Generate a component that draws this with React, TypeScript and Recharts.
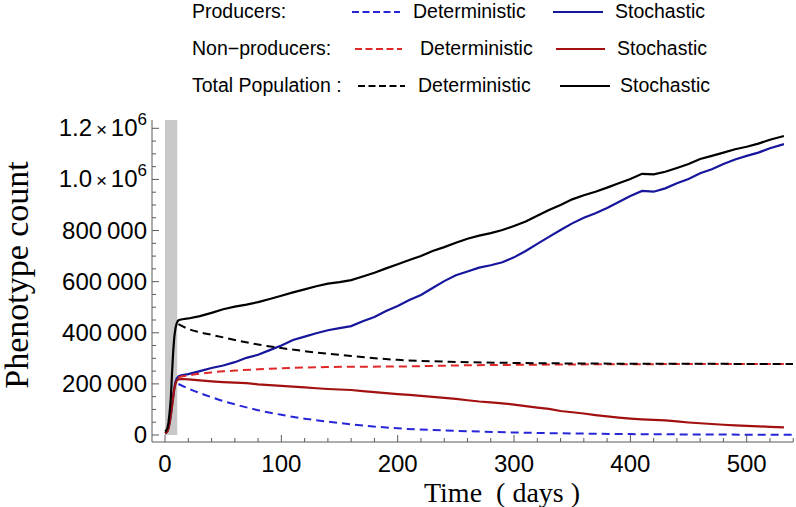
import React from 'react';
import { LineChart, Line, XAxis, YAxis, ReferenceArea } from 'recharts';

// stochastic runs (days)
const stochTimes = [
  0, 1, 2, 3, 4, 5, 6, 7, 8, 9, 10, 11, 12, 15, 20, 30, 40, 50, 60, 70, 80, 90, 100, 110, 120, 130,
  140, 150, 160, 170, 180, 190, 200, 210, 220, 230, 240, 250, 260, 270, 280, 290, 300, 310, 320,
  330, 340, 350, 360, 370, 380, 390, 400, 410, 420, 430, 440, 450, 460, 470, 480, 490, 500, 510,
  520, 532,
];
const stochProducers = [
  6000, 9000, 15000, 28000, 50000, 80000, 115000, 150000, 185000, 208000, 220000, 226000, 231000,
  234000, 238000, 250000, 262000, 272000, 285000, 302000, 314000, 332000, 350000, 372000, 385000,
  398000, 410000, 418000, 426000, 445000, 462000, 485000, 505000, 528000, 548000, 575000, 602000,
  625000, 640000, 655000, 664000, 676000, 695000, 720000, 748000, 775000, 802000, 828000, 850000,
  868000, 888000, 912000, 935000, 955000, 952000, 965000, 985000, 1002000, 1024000, 1040000,
  1060000, 1078000, 1092000, 1105000, 1122000, 1138000,
];
const stochNonProducers = [
  6500, 9000, 14000, 27000, 48000, 78000, 112000, 148000, 180000, 200000, 212000, 217000, 218000,
  219000, 218000, 214000, 210000, 207000, 205000, 203000, 198000, 195000, 192000, 189000, 186000,
  183000, 180000, 178000, 176000, 172000, 168000, 164000, 160000, 157000, 153000, 149000, 145000,
  141000, 136000, 131000, 128000, 124000, 119000, 113000, 107000, 102000, 94000, 89000, 84000,
  78000, 73000, 68000, 64000, 61000, 59000, 57000, 53000, 49000, 46000, 43000, 40000, 38000,
  36000, 34000, 32000, 30000,
];
const stochTotal = [
  13000, 17000, 27000, 50000, 90000, 145000, 240000, 325000, 385000, 418000, 437000, 446000, 450000,
  453000, 456000, 465000, 478000, 492000, 502000, 510000, 520000, 532000, 545000, 558000, 570000,
  582000, 592000, 598000, 606000, 620000, 635000, 652000, 668000, 685000, 700000, 720000, 735000,
  752000, 768000, 780000, 790000, 802000, 818000, 835000, 858000, 880000, 900000, 922000, 938000,
  952000, 968000, 985000, 1002000, 1022000, 1020000, 1030000, 1045000, 1060000, 1080000, 1092000,
  1105000, 1118000, 1128000, 1140000, 1155000, 1170000,
];

// deterministic model (days)
const detTimes = [11.5, 20, 30, 40, 50, 60, 80, 100, 120, 140, 160, 200, 250, 300, 350, 400, 450, 500, 540];
const detProducers = [
  199500, 182000, 164000, 148000, 133000, 120000, 97000, 79000, 64000, 52000, 42000, 26000, 16500,
  10000, 6000, 3500, 2200, 1300, 900,
];
const detNonProducers = [
  225700, 233000, 240000, 245000, 249000, 252000, 257000, 261000, 264000, 266000, 267000, 268000,
  272000, 274500, 276000, 277000, 277500, 277800, 278000,
];
const detTotal = [
  434000, 415000, 402000, 392000, 382000, 372000, 354000, 340000, 328000, 318000, 309000, 294000,
  286000, 282000, 280000, 279000, 278500, 278200, 278000,
];

const xTicks = Array.from({ length: 28 }, (_, i) => i * 20);
const yTicks = Array.from({ length: 25 }, (_, i) => i * 50000);
const yLabels: Record<number, string> = {
  0: '0', 200000: '200\u2009000', 400000: '400\u2009000', 600000: '600\u2009000', 800000: '800\u2009000',
};

const toRows = (times: number[], vals: number[]) => times.map((t, i) => ({ t, v: vals[i] }));

const FRAME = '#5a5a5a';
const SANS = '"Liberation Sans", Arial, sans-serif';
const SERIF = '"Liberation Serif", "Times New Roman", serif';

const COLORS = {
  prodDet: '#2626d8',
  prodSto: '#16169c',
  nonDet: '#e02828',
  nonSto: '#a21010',
  total: '#000000',
};

const BottomTick = (props: any) => {
  const { x, y, payload } = props;
  const major = payload.value % 100 === 0;
  return (
    <g>
      <line x1={x} x2={x} y1={y} y2={y - (major ? 7 : 4)} stroke={FRAME} />
      {major && (
        <text x={x} y={y + 30} textAnchor="middle" fontFamily={SANS} fontSize={24} fill="#000">
          {payload.value}
        </text>
      )}
    </g>
  );
};

const TopTick = (props: any) => {
  const { x, y, payload } = props;
  const major = payload.value % 100 === 0;
  return <line x1={x} x2={x} y1={y} y2={y + (major ? 7 : 4)} stroke={FRAME} />;
};

const LeftTick = (props: any) => {
  const { x, y, payload } = props;
  const v = payload.value;
  const major = v % 200000 === 0;
  let label: React.ReactNode = null;
  if (major) {
    if (v >= 1000000) {
      label = (
        <text x={x - 5} y={y + 8} textAnchor="end" fontFamily={SANS} fontSize={24} fill="#000">
          <tspan>{(v / 1e6).toFixed(1)}</tspan>
          <tspan fontSize={19}>{'\u2009\u00d7\u2009'}</tspan>
          <tspan>10</tspan>
          <tspan fontSize={17} dy={-11}>6</tspan>
        </text>
      );
    } else {
      label = (
        <text x={x - 5} y={y + 8.5} textAnchor="end" fontFamily={SANS} fontSize={24} fill="#000">
          {yLabels[v]}
        </text>
      );
    }
  }
  return (
    <g>
      <line x1={x} x2={x + (major ? 7 : 4)} y1={y} y2={y} stroke={FRAME} />
      {label}
    </g>
  );
};

const RightTick = (props: any) => {
  const { x, y, payload } = props;
  const major = payload.value % 200000 === 0;
  return <line x1={x} x2={x - (major ? 7 : 4)} y1={y} y2={y} stroke={FRAME} />;
};

const legendRows = [
  { label: 'Producers:', det: COLORS.prodDet, sto: COLORS.prodSto, y: 18, dash: [352, 400], detX: 413, solid: [553, 603], stoX: 615 },
  { label: 'Non\u2212producers:', det: COLORS.nonDet, sto: COLORS.nonSto, y: 55, dash: [355, 402], detX: 420, solid: [556, 605], stoX: 617 },
  { label: 'Total Population :', det: COLORS.total, sto: COLORS.total, y: 92, dash: [358, 405], detX: 418, solid: [560, 610], stoX: 620 },
];

const LegendBlock = () => (
  <svg width={796} height={110} style={{ position: 'absolute', left: 0, top: 0 }}>
    {legendRows.map((r) => (
      <g key={r.label} fontFamily={SANS} fontSize={19.5} fill="#000">
        <text x={192} y={r.y}>{r.label}</text>
        <line x1={r.dash[0]} x2={r.dash[1]} y1={r.y - 6} y2={r.y - 6} stroke={r.det} strokeWidth={2} strokeDasharray="7 3.5" />
        <text x={r.detX} y={r.y}>Deterministic</text>
        <line x1={r.solid[0]} x2={r.solid[1]} y1={r.y - 6} y2={r.y - 6} stroke={r.sto} strokeWidth={2} />
        <text x={r.stoX} y={r.y}>Stochastic</text>
      </g>
    ))}
  </svg>
);

const X_DOMAIN: [number, number] = [-11.2, 539.8];
const Y_DOMAIN: [number, number] = [-27400, 1232500];

export default function App() {
  return (
    <div style={{ position: 'absolute', left: 0, top: 0, width: 796, height: 507, background: '#fff' }}>
      <LineChart width={796} height={507} margin={{ top: 120, right: 3, bottom: 0, left: 0 }}>
        <XAxis
          dataKey="t" type="number" domain={X_DOMAIN} allowDataOverflow ticks={xTicks} interval={0}
          height={65} tickSize={0} tickMargin={0} tick={<BottomTick />} axisLine={{ stroke: FRAME }}
        />
        <XAxis
          xAxisId="top" orientation="top" dataKey="t" type="number" domain={X_DOMAIN} allowDataOverflow
          ticks={xTicks} interval={0} height={0} tickSize={0} tickMargin={0} tick={<TopTick />}
          axisLine={{ stroke: FRAME }}
        />
        <YAxis
          type="number" domain={Y_DOMAIN} allowDataOverflow ticks={yTicks} interval={0} width={152}
          tickSize={0} tickMargin={0} tick={<LeftTick />} axisLine={{ stroke: FRAME }}
        />
        <YAxis
          yAxisId="right" orientation="right" type="number" domain={Y_DOMAIN} allowDataOverflow
          ticks={yTicks} interval={0} width={0} tickSize={0} tickMargin={0} tick={<RightTick />}
          axisLine={{ stroke: FRAME }}
        />
        <ReferenceArea x1={0} x2={10.5} y1={0} y2={Y_DOMAIN[1]} fill="#c8c8c8" fillOpacity={1} stroke="none" />

        <Line data={toRows(stochTimes, stochProducers)} dataKey="v" type="linear" stroke={COLORS.prodSto} strokeWidth={2.2} dot={false} activeDot={false} isAnimationActive={false} />
        <Line data={toRows(stochTimes, stochNonProducers)} dataKey="v" type="linear" stroke={COLORS.nonSto} strokeWidth={2.2} dot={false} activeDot={false} isAnimationActive={false} />
        <Line data={toRows(stochTimes, stochTotal)} dataKey="v" type="linear" stroke={COLORS.total} strokeWidth={2.2} dot={false} activeDot={false} isAnimationActive={false} />

        <Line data={toRows(detTimes, detProducers)} dataKey="v" type="monotone" stroke={COLORS.prodDet} strokeWidth={2} strokeDasharray="8 5" dot={false} activeDot={false} isAnimationActive={false} />
        <Line data={toRows(detTimes, detNonProducers)} dataKey="v" type="monotone" stroke={COLORS.nonDet} strokeWidth={2} strokeDasharray="8 5" dot={false} activeDot={false} isAnimationActive={false} />
        <Line data={toRows(detTimes, detTotal)} dataKey="v" type="monotone" stroke={COLORS.total} strokeWidth={2} strokeDasharray="8 5" dot={false} activeDot={false} isAnimationActive={false} />

        <text x={28} y={275} transform="rotate(-90, 28, 275)" textAnchor="middle" fontFamily={SERIF} fontSize={34} fill="#000">
          Phenotype count
        </text>
        <text x={502} y={502} textAnchor="middle" fontFamily={SERIF} fontSize={28} fill="#000" style={{ whiteSpace: 'pre' }}>
          {'Time  ( days )'}
        </text>
      </LineChart>
      <LegendBlock />
    </div>
  );
}
